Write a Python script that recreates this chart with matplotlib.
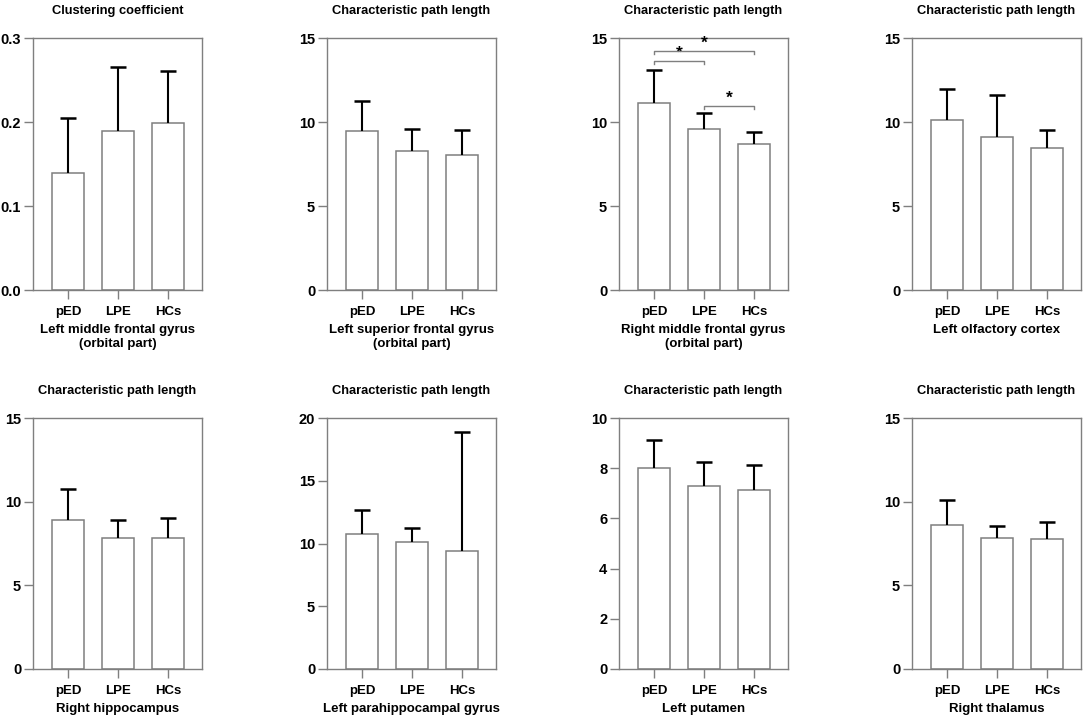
import numpy as np
import matplotlib
matplotlib.use('Agg')
import matplotlib.pyplot as plt

plt.rcParams['font.family'] = ['Liberation Sans', 'DejaVu Sans']
plt.rcParams['font.weight'] = 'bold'

groups = ['pED', 'LPE', 'HCs']

titles = ['Clustering coefficient'] + ['Characteristic path length'] * 7
regions = ['Left middle frontal gyrus\n(orbital part)',
           'Left superior frontal gyrus\n(orbital part)',
           'Right middle frontal gyrus\n(orbital part)',
           'Left olfactory cortex',
           'Right hippocampus',
           'Left parahippocampal gyrus',
           'Left putamen',
           'Right thalamus']

# bar heights (mean) and top of the error bar (mean + sd)
means = [[0.139, 0.189, 0.199],
         [9.48, 8.25, 8.05],
         [11.13, 9.58, 8.72],
         [10.10, 9.10, 8.43],
         [8.88, 7.83, 7.81],
         [10.75, 10.15, 9.43],
         [8.00, 7.31, 7.13],
         [8.62, 7.83, 7.77]]
tops = [[0.205, 0.266, 0.261],
        [11.27, 9.58, 9.54],
        [13.11, 10.53, 9.42],
        [11.99, 11.63, 9.54],
        [10.77, 8.88, 9.00],
        [12.66, 11.26, 18.91],
        [9.11, 8.24, 8.12],
        [10.09, 8.52, 8.80]]

ymax = [0.3, 15, 15, 15, 15, 20, 10, 15]
ysteps = [0.1, 5, 5, 5, 5, 5, 2, 5]
yfmt = ['%.1f', '%d', '%d', '%d', '%d', '%d', '%d', '%d']

# significance brackets for panel 3: (i, j, height)
sig_pairs = [(0, 2, 14.24), (0, 1, 13.65), (1, 2, 10.97)]

fig = plt.figure(figsize=(10.84, 7.23), dpi=100)
W, H = 1084.0, 723.0
lefts = [33, 327, 619, 912]
rows = [(38, 290), (418, 669)]

gray = '#7f7f7f'
fs = 8.5
x = np.arange(3)

for k in range(8):
    r, c = divmod(k, 4)
    top_px, bot_px = rows[r]
    ax = fig.add_axes([lefts[c] / W, 1 - bot_px / H, 169 / W, (bot_px - top_px) / H])

    m = np.array(means[k])
    e = np.array(tops[k]) - m
    ax.bar(x, m, width=0.65, color='white', edgecolor=gray, linewidth=1.1, zorder=2)
    eb = ax.errorbar(x, m, yerr=[np.zeros(3), e], fmt='none', ecolor='black',
                     elinewidth=1.5, capsize=6, capthick=1.8, zorder=3)
    # only the upper cap is drawn
    eb[1][0].set_visible(False)

    ax.set_xlim(-0.7, 2.68)
    ax.set_ylim(0, ymax[k])
    ticks = np.arange(0, ymax[k] + ysteps[k] / 2, ysteps[k])
    ax.set_yticks(ticks)
    ax.set_yticklabels([yfmt[k] % t for t in ticks])
    ax.set_xticks(x)
    ax.set_xticklabels(groups)

    for s in ax.spines.values():
        s.set_color(gray)
        s.set_linewidth(1.0)
    ax.tick_params(axis='both', colors=gray, labelcolor='black', length=6.5,
                   width=1.0, labelsize=fs + 1)
    ax.tick_params(axis='y', labelsize=fs + 2, pad=2)
    ax.tick_params(axis='x', pad=5)
    for lab in ax.get_xticklabels() + ax.get_yticklabels():
        lab.set_fontweight('bold')

    ax.set_title(titles[k], fontsize=fs + 0.75, fontweight='bold', pad=17)
    ax.set_xlabel(regions[k], fontsize=fs + 1, fontweight='bold', labelpad=4,
                  linespacing=1.3)

    if k == 2:
        d = 0.22
        for i, j, h in sig_pairs:
            ax.plot([i, i, j, j], [h - d, h, h, h - d], color=gray, lw=1.0,
                    clip_on=False, zorder=4)
            ax.text((i + j) / 2, h + 0.02, '*', ha='center', va='bottom',
                    fontsize=fs + 4, fontweight='bold')

fig.savefig('out.png', dpi=100)
